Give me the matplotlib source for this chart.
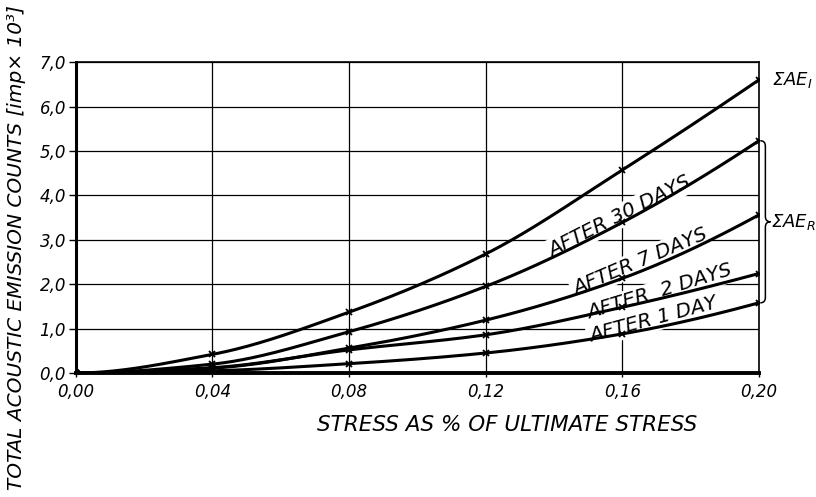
import numpy as np
import matplotlib
matplotlib.use("Agg")
import matplotlib.pyplot as plt
from matplotlib.path import Path
from matplotlib.patches import PathPatch

# ---------------- data ----------------
stress = [0.00, 0.04, 0.08, 0.12, 0.16, 0.20]
total_ae_I = [0.0, 0.42, 1.37, 2.68, 4.57, 6.60]
after_30_days = [0.0, 0.20, 0.93, 1.95, 3.39, 5.23]
after_7_days = [0.0, 0.11, 0.56, 1.19, 2.13, 3.56]
after_2_days = [0.0, 0.12, 0.52, 0.86, 1.48, 2.24]
after_1_day = [0.0, 0.05, 0.21, 0.45, 0.88, 1.58]

x_ticks = [0.00, 0.04, 0.08, 0.12, 0.16, 0.20]
x_tick_labels = ["0,00", "0,04", "0,08", "0,12", "0,16", "0,20"]
y_ticks = [0, 1, 2, 3, 4, 5, 6, 7]
y_tick_labels = ["0,0", "1,0", "2,0", "3,0", "4,0", "5,0", "6,0", "7,0"]

curve_labels = ["AFTER 30 DAYS", "AFTER 7 DAYS", "AFTER  2 DAYS", "AFTER 1 DAY"]
label_pos = [(0.1593, 3.53, 27), (0.1652, 2.50, 23), (0.1710, 1.82, 17), (0.1690, 1.20, 15)]

x_label = "STRESS AS % OF ULTIMATE STRESS"
y_label = "TOTAL ACOUSTIC EMISSION COUNTS [imp× 10³]"

FONT = dict(family="DejaVu Sans", style="oblique")


def smooth(x, y, n=300):
    """Monotone cubic Hermite curve through the data points (display only)."""
    x = np.asarray(x, float)
    y = np.asarray(y, float)
    h = np.diff(x)
    d = np.diff(y) / h
    m = np.zeros_like(y)
    for k in range(1, len(x) - 1):
        if d[k - 1] * d[k] > 0:
            w1 = 2 * h[k] + h[k - 1]
            w2 = h[k] + 2 * h[k - 1]
            m[k] = (w1 + w2) / (w1 / d[k - 1] + w2 / d[k])
    m[0] = 0.0
    m[-1] = ((2 * h[-1] + h[-2]) * d[-1] - h[-1] * d[-2]) / (h[-1] + h[-2])
    xs = np.linspace(x[0], x[-1], n)
    idx = np.clip(np.searchsorted(x, xs) - 1, 0, len(x) - 2)
    t = (xs - x[idx]) / h[idx]
    h00 = 2 * t**3 - 3 * t**2 + 1
    h10 = t**3 - 2 * t**2 + t
    h01 = -2 * t**3 + 3 * t**2
    h11 = t**3 - t**2
    ys = h00 * y[idx] + h10 * h[idx] * m[idx] + h01 * y[idx + 1] + h11 * h[idx] * m[idx + 1]
    return xs, ys


fig = plt.figure(figsize=(8.16, 4.97), dpi=100)
ax = fig.add_axes([0.093, 0.2495, 0.837, 0.6255])

ax.set_xlim(0, 0.20)
ax.set_ylim(0, 7)
ax.set_xticks(x_ticks)
ax.set_xticklabels(x_tick_labels, **FONT, fontsize=12)
ax.set_yticks(y_ticks)
ax.set_yticklabels(y_tick_labels, **FONT, fontsize=12)
ax.tick_params(axis="both", direction="out", length=5, width=1, color="black", pad=2)
ax.tick_params(axis="x", length=3, pad=4)
ax.grid(True, color="black", linewidth=0.9, zorder=1)
ax.set_axisbelow(True)

for side, lw in (("left", 2.2), ("bottom", 2.8), ("top", 1.2), ("right", 1.2)):
    ax.spines[side].set_linewidth(lw)
    ax.spines[side].set_color("black")

series = [total_ae_I, after_30_days, after_7_days, after_2_days, after_1_day]
for s in series:
    xs, ys = smooth(stress, s)
    ax.plot(xs, ys, color="black", linewidth=2.2, zorder=4, solid_capstyle="round")
    ax.plot(stress, s, linestyle="none", marker="x", markersize=5,
            markeredgewidth=1.3, color="black", zorder=5)

for text, (lx, ly, rot) in zip(curve_labels, label_pos):
    ax.text(lx, ly, text, rotation=rot, rotation_mode="anchor", ha="center",
            va="center", fontsize=14.5, color="black", zorder=3,
            bbox=dict(boxstyle="square,pad=0.12", facecolor="white", edgecolor="none"),
            **FONT)

# brace for the ΣAE_R group
y_hi = after_30_days[-1]
y_lo = after_1_day[-1]
y_mid = (y_hi + y_lo) / 2
x0 = stress[-1] + 0.0004
w = 0.0030
r = 0.12
verts = [
    (x0, y_hi),
    (x0 + w * 0.5, y_hi), (x0 + w * 0.5, y_hi - r),
    (x0 + w * 0.5, y_mid + r),
    (x0 + w * 0.5, y_mid), (x0 + w, y_mid),
    (x0 + w * 0.5, y_mid), (x0 + w * 0.5, y_mid - r),
    (x0 + w * 0.5, y_lo + r),
    (x0 + w * 0.5, y_lo), (x0, y_lo),
]
codes = [Path.MOVETO, Path.CURVE3, Path.CURVE3, Path.LINETO,
         Path.CURVE3, Path.CURVE3, Path.CURVE3, Path.CURVE3,
         Path.LINETO, Path.CURVE3, Path.CURVE3]
ax.add_patch(PathPatch(Path(verts, codes), facecolor="none", edgecolor="black",
                       linewidth=1.1, clip_on=False))

ax.text(stress[-1] + 0.0038, total_ae_I[-1], "ΣAE$_I$", fontsize=13, ha="left",
        va="center", clip_on=False, **FONT)
ax.text(stress[-1] + 0.0036, y_mid, "ΣAE$_R$", fontsize=13, ha="left",
        va="center", clip_on=False, **FONT)

fig.text(0.621, 0.145, x_label, ha="center", va="center", fontsize=15.5, **FONT)
fig.text(0.02, 0.503, y_label, ha="center", va="center", rotation=90, fontsize=14.5, **FONT)

fig.savefig("out.png", dpi=100, facecolor="white")
